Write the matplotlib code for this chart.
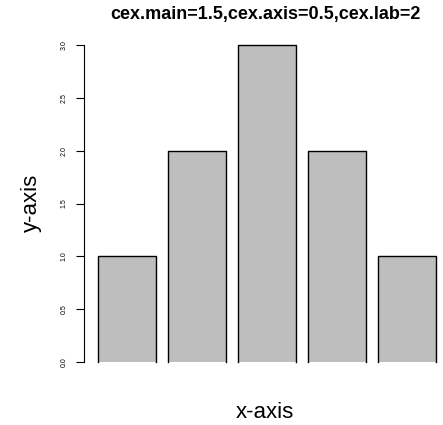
import matplotlib.pyplot as plt

# bar heights
values = [1, 2, 3, 2, 1]
yticks = [0.0, 0.5, 1.0, 1.5, 2.0, 2.5, 3.0]
ytick_labels = ["0.0", "0.5", "1.0", "1.5", "2.0", "2.5", "3.0"]
title = "cex.main=1.5,cex.axis=0.5,cex.lab=2"

plt.rcParams['font.family'] = ['Liberation Sans', 'DejaVu Sans']

W, H = 443, 425
fig = plt.figure(figsize=(W / 100, H / 100), dpi=100)
# plot region in pixels (R style: region runs past the right edge)
left_px, right_px, top_px, bottom_px = 84, 443, 32, 375
ax = fig.add_axes([left_px / W, 1 - bottom_px / H,
                   (right_px - left_px) / W, (bottom_px - top_px) / H])

# R barplot positions: width 1, space 0.2
lefts = [0.2 + i * 1.2 for i in range(len(values))]
ax.bar(lefts, values, width=1.0, align='edge', color='#BEBEBE',
       edgecolor='none')
# outline top and sides only (no visible bottom edge in the reference)
for l, v in zip(lefts, values):
    ax.plot([l, l, l + 1, l + 1], [0, v, v, 0], color='black', lw=1.0)

unit = 58.33  # px per x unit
x0 = 0.2 - 0.232
ax.set_xlim(x0, x0 + (right_px - left_px) / unit)
ax.set_ylim(-0.12, 3.12)

for s in ['top', 'right', 'bottom']:
    ax.spines[s].set_visible(False)
ax.spines['left'].set_bounds(0, 3)
ax.spines['left'].set_linewidth(0.8)
ax.set_xticks([])
ax.set_yticks(yticks)
ax.set_yticklabels(ytick_labels, rotation=90, va='center', fontsize=5)
ax.tick_params(axis='y', length=6, width=0.8, pad=6)

fig.text(265 / W, 1 - 15 / H, title, ha='center', va='center',
         fontsize=13, fontweight='bold')
fig.text(265 / W, 1 - 412 / H, "x-axis", ha='center', va='center',
         fontsize=16)
fig.text(31 / W, 1 - 203 / H, "y-axis", ha='center', va='center',
         fontsize=16, rotation=90)

fig.savefig('out.png', dpi=100)
